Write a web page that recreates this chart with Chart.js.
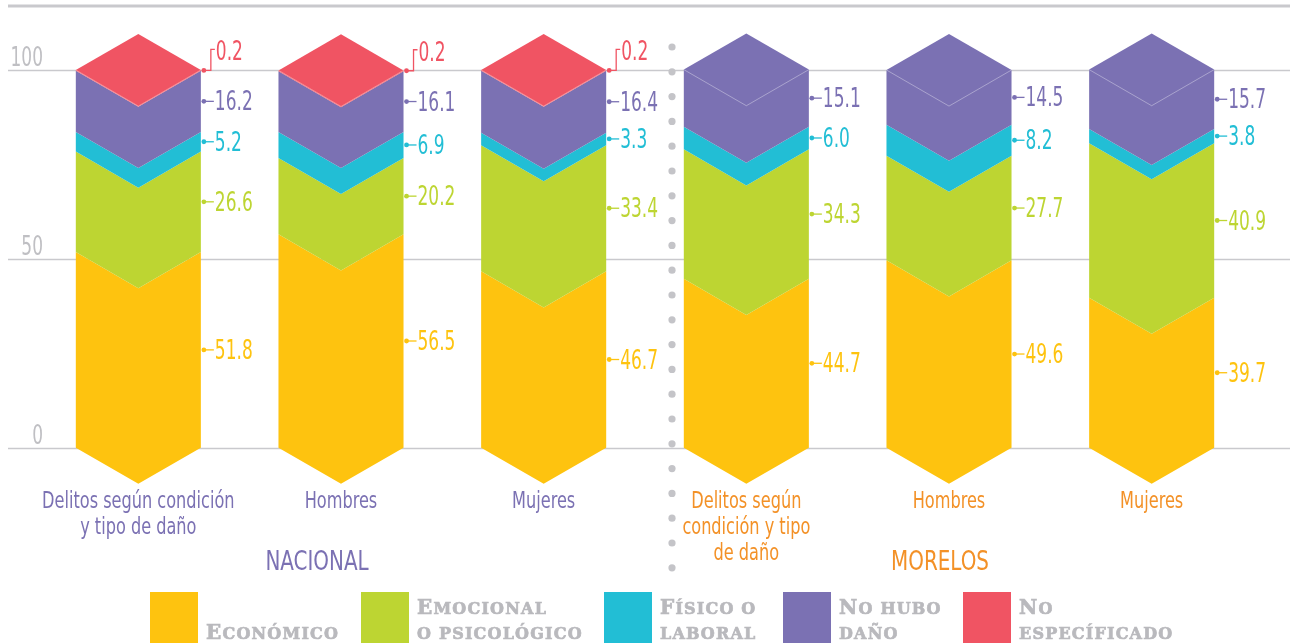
<!DOCTYPE html>
<html>
<head>
<meta charset="utf-8">
<script src="https://cdn.jsdelivr.net/npm/chart.js@4.4.0/dist/chart.umd.min.js"></script>
<style>
    html, body { margin: 0; padding: 0; background: #fff; }
    #contenedor { width: 1290px; height: 643px; }
</style>
</head>
<body>
<div id="contenedor"><canvas id="grafico" width="1290" height="643"></canvas></div>
<script>
// ====== datos
var categorias = [["Delitos según condición", "y tipo de daño"], "Hombres", "Mujeres",
    ["Delitos según", "condición y tipo", "de daño"], "Hombres", "Mujeres"];
var grupos = ["NACIONAL", "MORELOS"];
var series = ["Económico", "Emocional o psicológico", "Físico o laboral", "No hubo daño", "No específicado"];
var economico = [51.8, 56.5, 46.7, 44.7, 49.6, 39.7];
var emocional = [26.6, 20.2, 33.4, 34.3, 27.7, 40.9];
var fisico = [5.2, 6.9, 3.3, 6.0, 8.2, 3.8];
var noHubo = [16.2, 16.1, 16.4, 15.1, 14.5, 15.7];
var noEspecificado = [0.2, 0.2, 0.2, 0, 0, 0];
var ticksY = [0, 50, 100];
var leyendaLineas = [["", "Económico"], ["Emocional", "o psicológico"], ["Físico o", "laboral"], ["No hubo", "daño"], ["No", "específicado"]];

var colores = ["#FEC30F", "#BDD532", "#22BED5", "#7B71B3", "#F05463"];
var morado = "#7B71B3", naranja = "#F39127", gris = "#c9c9cd";
var fuente = "'Liberation Sans Narrow', 'DejaVu Sans Condensed', 'Arial Narrow', sans-serif";
var fuenteLeyenda = "'DejaVu Serif', 'Liberation Serif', serif";

// texto comprimido a lo ancho (la fuente original es condensada)
function textoAngosto(ctx, texto, x, y, escala, alinear) {
    ctx.save();
    ctx.translate(x, y);
    ctx.scale(escala, 1);
    ctx.textAlign = alinear;
    ctx.fillText(texto, 0, 0);
    ctx.restore();
}

// texto en versalitas: mayusculas grandes, minusculas como mayusculas chicas
function versalitas(ctx, texto, x, y) {
    ctx.lineWidth = 0.7;
    ctx.strokeStyle = ctx.fillStyle;
    for (var k = 0; k < texto.length; k++) {
        var c = texto[k];
        var grande = c !== c.toLowerCase();
        ctx.font = "bold " + (grande ? 20 : 16) + "px " + fuenteLeyenda;
        var letra = c.toUpperCase();
        ctx.fillText(letra, x, y);
        ctx.strokeText(letra, x, y);
        x += ctx.measureText(letra).width + 1.2;
    }
}

function etiquetasValores(chart) {
    var ctx = chart.ctx;
    ctx.save();
    ctx.font = "27px " + fuente;
    ctx.textBaseline = "middle";
    chart.data.datasets.forEach(function (ds, d) {
        chart.getDatasetMeta(d).data.forEach(function (el, i) {
            var v = ds.data[i];
            if (!(v > 0)) return;
            var xr = el.x + el.width / 2;
            var ym = (el.y + el.base) / 2;
            ctx.fillStyle = ds.backgroundColor;
            ctx.strokeStyle = ds.backgroundColor;
            ctx.lineWidth = 1.3;
            ctx.beginPath();
            ctx.arc(xr + 3, ym, 2.4, 0, Math.PI * 2);
            ctx.fill();
            ctx.beginPath();
            if (el.base - el.y < 8) {
                ctx.moveTo(xr + 3, ym);
                ctx.lineTo(xr + 10, ym);
                ctx.lineTo(xr + 10, ym - 21);
                ctx.lineTo(xr + 14, ym - 21);
                ctx.stroke();
                textoAngosto(ctx, v.toFixed(1), xr + 15, ym - 17, 0.7, "left");
            } else {
                ctx.moveTo(xr + 3, ym);
                ctx.lineTo(xr + 13, ym);
                ctx.stroke();
                textoAngosto(ctx, v.toFixed(1), xr + 14, ym + 2, 0.7, "left");
            }
        });
    });
    ctx.restore();
}

function etiquetasCategorias(chart) {
    var ctx = chart.ctx;
    var ejeX = chart.scales.x;
    ctx.save();
    ctx.font = "23px " + fuente;
    ctx.textBaseline = "alphabetic";
    ejeX.getLabels().forEach(function (etiqueta, i) {
        var px = ejeX.getPixelForTick(i);
        ctx.fillStyle = i < 3 ? morado : naranja;
        [].concat(etiqueta).forEach(function (linea, j) {
            textoAngosto(ctx, linea, px, 508 + j * 26, 0.78, "center");
        });
    });
    ctx.restore();
}

var dibujoBarras = {
    id: 'dibujoBarras',
    beforeDatasetsDraw: function (chart) {
        var ctx = chart.ctx;
        var ejeY = chart.scales.y;
        ctx.save();
        // lineas de la rejilla y etiquetas del eje
        ejeY.ticks.forEach(function (t) {
            var py = Math.round(ejeY.getPixelForValue(t.value)) + 0.5;
            ctx.strokeStyle = gris;
            ctx.lineWidth = 1.5;
            ctx.beginPath();
            ctx.moveTo(8, py);
            ctx.lineTo(chart.width, py);
            ctx.stroke();
            ctx.fillStyle = "#bfbfc3";
            ctx.font = "27px " + fuente;
            ctx.textBaseline = "alphabetic";
            textoAngosto(ctx, String(t.value), 43, py - 5, 0.7, "right");
        });

        var n = chart.data.labels.length;
        for (var i = 0; i < n; i++) {
            var tope = -1;
            chart.data.datasets.forEach(function (ds, d) {
                if (ds.data[i] > 0) tope = d;
            });
            chart.data.datasets.forEach(function (ds, d) {
                if (!(ds.data[i] > 0)) return;
                var el = chart.getDatasetMeta(d).data[i];
                var xl = el.x - el.width / 2, xr = el.x + el.width / 2;
                var D = el.width / 2 * Math.tan(Math.PI / 6);
                ctx.beginPath();
                ctx.moveTo(xl, el.base);
                ctx.lineTo(el.x, el.base + D);
                ctx.lineTo(xr, el.base);
                ctx.lineTo(xr, el.y);
                ctx.lineTo(el.x, d === tope ? el.y - D : el.y + D);
                ctx.lineTo(xl, el.y);
                ctx.closePath();
                ctx.fillStyle = ds.backgroundColor;
                ctx.fill();
                if (d === tope) {
                    ctx.strokeStyle = "rgba(255,255,255,0.35)";
                    ctx.lineWidth = 1;
                    ctx.beginPath();
                    ctx.moveTo(xl, el.y);
                    ctx.lineTo(el.x, el.y + D);
                    ctx.lineTo(xr, el.y);
                    ctx.stroke();
                }
            });
        }
        ctx.restore();
        return false;
    },
    afterDraw: function (chart) {
        var ctx = chart.ctx;
        etiquetasValores(chart);
        etiquetasCategorias(chart);
        ctx.save();
        // linea superior
        ctx.fillStyle = gris;
        ctx.fillRect(8, 4.5, chart.width - 8, 3);
        // separador punteado
        ctx.fillStyle = "#c4c4c8";
        for (var yy = 47; yy <= 568; yy += 24.8) {
            ctx.beginPath();
            ctx.arc(672, yy, 3.6, 0, Math.PI * 2);
            ctx.fill();
        }
        // titulos de grupo
        ctx.font = "27px " + fuente;
        ctx.textBaseline = "alphabetic";
        ctx.fillStyle = morado;
        textoAngosto(ctx, grupos[0], 317, 570, 0.82, "center");
        ctx.fillStyle = naranja;
        textoAngosto(ctx, grupos[1], 940, 570, 0.82, "center");
        // leyenda
        var xs = [150, 361, 604, 783, 963];
        ctx.textAlign = "left";
        chart.data.datasets.forEach(function (ds, d) {
            ctx.fillStyle = ds.backgroundColor;
            ctx.fillRect(xs[d], 592, 48, 51);
            ctx.fillStyle = "#b9b9bd";
            versalitas(ctx, leyendaLineas[d][0], xs[d] + 56, 614);
            versalitas(ctx, leyendaLineas[d][1], xs[d] + 56, 639);
        });
        ctx.restore();
    }
};

var valores = [economico, emocional, fisico, noHubo, noEspecificado];
var conjuntos = series.map(function (nombre, k) {
    return {
        label: nombre,
        data: valores[k],
        backgroundColor: colores[k],
        categoryPercentage: 1,
        barPercentage: 0.617
    };
});

var grafico = new Chart(document.getElementById('grafico'), {
    type: 'bar',
    data: { labels: categorias, datasets: conjuntos },
    options: {
        responsive: false,
        maintainAspectRatio: false,
        animation: false,
        layout: { padding: { top: 70, left: 37, right: 37, bottom: 0 } },
        plugins: { legend: { display: false }, tooltip: { enabled: false } },
        scales: {
            x: {
                stacked: true,
                grid: { display: false, drawTicks: false },
                border: { display: false },
                ticks: { display: false },
                afterFit: function (eje) {
                    eje.height = 195.3;
                    eje.paddingLeft = 0;
                    eje.paddingRight = 0;
                }
            },
            y: {
                stacked: true, display: false, min: 0, max: 100,
                afterBuildTicks: function (eje) {
                    eje.ticks = ticksY.map(function (v) { return { value: v }; });
                }
            }
        }
    },
    plugins: [dibujoBarras]
});
</script>
</body>
</html>
